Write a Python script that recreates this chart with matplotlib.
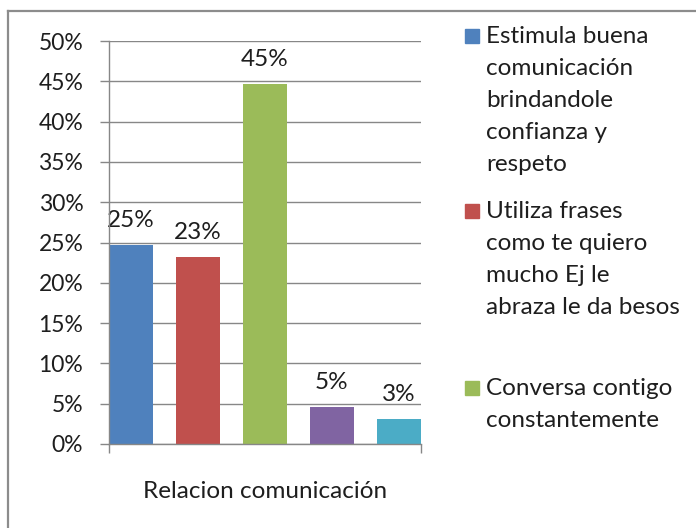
import matplotlib
matplotlib.use("Agg")
import matplotlib.pyplot as plt
from matplotlib.lines import Line2D
from matplotlib.patches import Rectangle

# ---- data ----
series_names = [
    "Estimula buena\ncomunicación\nbrindandole\nconfianza y\nrespeto",
    "Utiliza frases\ncomo te quiero\nmucho Ej le\nabraza le da besos",
    "Conversa contigo\nconstantemente",
    "Otro 4",
    "Otro 5",
]
values = [24.7, 23.2, 44.7, 4.6, 3.1]
value_labels = ["25%", "23%", "45%", "5%", "3%"]
category_label = "Relacion comunicación"
y_ticks = [0, 5, 10, 15, 20, 25, 30, 35, 40, 45, 50]
y_tick_labels = [f"{t}%" for t in y_ticks]
colors = ["#4F81BD", "#C0504D", "#9BBB59", "#8064A2", "#4BACC6"]
legend_shown = 3

plt.rcParams['font.family'] = ['Lato', 'DejaVu Sans']
TXT = "#1e1e1e"
GRID = "#878787"
FS = 17.5
FS_TICK = 16.5

W, H = 696, 528
fig = plt.figure(figsize=(W / 100, H / 100), dpi=100)

def fx(px):
    return px / W

def fy(py):
    return 1 - py / H

ax = fig.add_axes([fx(109), fy(444), fx(421) - fx(109), (444 - 41) / H])

bar_w = 0.664
xs = list(range(len(values)))
bars = ax.bar(xs, values, width=bar_w, color=colors, zorder=3)
for b, lab in zip(bars, value_labels):
    ax.annotate(lab, (b.get_x() + b.get_width() / 2, b.get_height()),
                xytext=(0, 13), textcoords="offset points",
                ha="center", va="baseline", fontsize=FS, color=TXT)

x0, x1 = -bar_w / 2, len(values) - 1 + bar_w / 2
ax.set_xlim(x0, x1)
ax.set_ylim(0, 50)
ax.set_yticks(y_ticks)
ax.set_yticklabels(y_tick_labels, fontsize=FS_TICK, color=TXT)
ax.set_xticks([x0, x1])
ax.set_xticklabels(["", ""])
ax.tick_params(axis="both", direction="out", length=6.5, width=1, color=GRID)
ax.tick_params(axis="y", pad=12)
ax.yaxis.grid(True, color=GRID, linewidth=1, zorder=0)
ax.set_axisbelow(True)
for s in ["top", "right"]:
    ax.spines[s].set_visible(False)
for s in ["left", "bottom"]:
    ax.spines[s].set_color(GRID)
    ax.spines[s].set_linewidth(1)
    ax.spines[s].set_zorder(4)

fig.text(fx(265), fy(498), category_label, ha="center", va="baseline",
         fontsize=FS, color=TXT)

# legend (only first three entries visible)
first_baselines = [43, 218, 395]
line_step = 32
for i in range(legend_shown):
    base = first_baselines[i]
    fig.add_artist(Rectangle((fx(465), fy(base)), fx(14), 14 / H,
                             transform=fig.transFigure, color=colors[i]))
    for j, line in enumerate(series_names[i].split("\n")):
        fig.text(fx(486), fy(base + j * line_step), line, ha="left",
                 va="baseline", fontsize=FS, color=TXT)

# outer chart frame
fig.add_artist(Line2D([fx(8), fx(8)], [fy(11), 0], transform=fig.transFigure,
                      color="#8c8c8c", linewidth=1.6))
fig.add_artist(Line2D([fx(8), 1], [fy(11), fy(11)], transform=fig.transFigure,
                      color="#8c8c8c", linewidth=1.6))

fig.savefig("out.png", dpi=100)
